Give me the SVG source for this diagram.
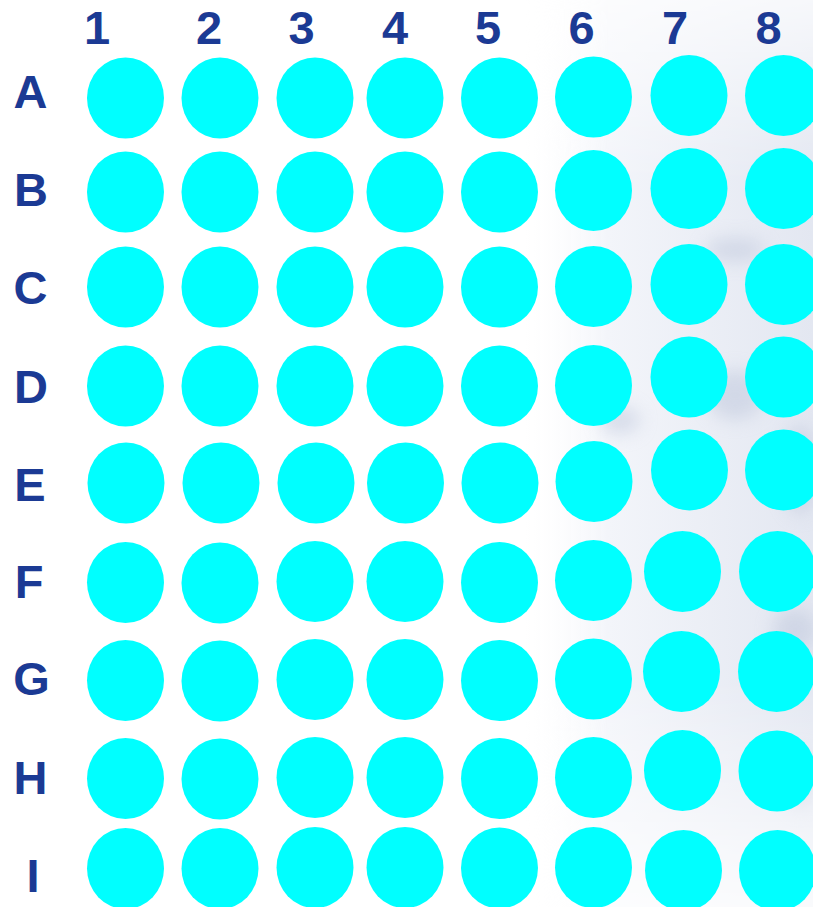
<svg xmlns="http://www.w3.org/2000/svg" width="813" height="907" viewBox="0 0 813 907">
  <defs>
    <style>
      .lbl { font-family: "Liberation Sans", Arial, sans-serif; font-weight: bold; font-size: 47px; fill: #1B3A94; text-anchor: middle; }
      .well { fill: #00FFFF; }
    </style>
    <linearGradient id="bgGrad" x1="0" y1="0" x2="1" y2="0">
      <stop offset="0" stop-color="#ffffff" stop-opacity="0"/>
      <stop offset="0.3" stop-color="#f3f5fa" stop-opacity="1"/>
      <stop offset="1" stop-color="#e3e7f1" stop-opacity="1"/>
    </linearGradient>
    <linearGradient id="fadeV" x1="0" y1="0" x2="0" y2="1">
      <stop offset="0" stop-color="#fff" stop-opacity="0.3"/>
      <stop offset="0.2" stop-color="#fff" stop-opacity="1"/>
      <stop offset="0.75" stop-color="#fff" stop-opacity="1"/>
      <stop offset="1" stop-color="#fff" stop-opacity="0.2"/>
    </linearGradient>
    <mask id="bgMask">
      <rect x="520" y="0" width="293" height="907" fill="url(#fadeV)"/>
    </mask>
    <filter id="blur" x="-50%" y="-50%" width="200%" height="200%">
      <feGaussianBlur stdDeviation="9"/>
    </filter>
  </defs>

  <rect x="0" y="0" width="813" height="907" fill="#ffffff"/>
  <g id="background" mask="url(#bgMask)">
    <rect x="520" y="0" width="293" height="907" fill="url(#bgGrad)"/>
    <g filter="url(#blur)" fill="#bcc5da" opacity="0.5">
      <ellipse cx="735" cy="250" rx="30" ry="12"/>
      <ellipse cx="735" cy="395" rx="28" ry="25"/>
      <ellipse cx="800" cy="470" rx="18" ry="45"/>
      <ellipse cx="795" cy="630" rx="22" ry="22"/>
      <ellipse cx="800" cy="780" rx="14" ry="30"/>
      <ellipse cx="620" cy="420" rx="20" ry="14"/>
    </g>
  </g>

  <g id="column-labels">
    <text class="lbl" x="97" y="44">1</text>
    <text class="lbl" x="209" y="44">2</text>
    <text class="lbl" x="301.5" y="44">3</text>
    <text class="lbl" x="395" y="44">4</text>
    <text class="lbl" x="488" y="44">5</text>
    <text class="lbl" x="581.5" y="44">6</text>
    <text class="lbl" x="675" y="44">7</text>
    <text class="lbl" x="768.5" y="44">8</text>
  </g>

  <g id="row-labels">
    <text class="lbl" x="30.5" y="108">A</text>
    <text class="lbl" x="31" y="206">B</text>
    <text class="lbl" x="30.5" y="304">C</text>
    <text class="lbl" x="31" y="403">D</text>
    <text class="lbl" x="30" y="501">E</text>
    <text class="lbl" x="29" y="598">F</text>
    <text class="lbl" x="31.5" y="695">G</text>
    <text class="lbl" x="30.5" y="794">H</text>
    <text class="lbl" x="33" y="892">I</text>
  </g>

  <g id="row-A">
    <ellipse id="A1" class="well" cx="125.5" cy="98" rx="38.5" ry="40.5"/>
    <ellipse id="A2" class="well" cx="220" cy="98" rx="38.5" ry="40.5"/>
    <ellipse id="A3" class="well" cx="315" cy="98" rx="38.5" ry="40.5"/>
    <ellipse id="A4" class="well" cx="405" cy="98" rx="38.5" ry="40.5"/>
    <ellipse id="A5" class="well" cx="499.5" cy="98" rx="38.5" ry="40.5"/>
    <ellipse id="A6" class="well" cx="593.5" cy="97" rx="38.5" ry="40.5"/>
    <ellipse id="A7" class="well" cx="689" cy="95.5" rx="38.5" ry="40.5"/>
    <ellipse id="A8" class="well" cx="783.5" cy="95.5" rx="38.5" ry="40.5"/>
  </g>
  <g id="row-B">
    <ellipse id="B1" class="well" cx="125.5" cy="192" rx="38.5" ry="40.5"/>
    <ellipse id="B2" class="well" cx="220" cy="192" rx="38.5" ry="40.5"/>
    <ellipse id="B3" class="well" cx="315" cy="192" rx="38.5" ry="40.5"/>
    <ellipse id="B4" class="well" cx="405" cy="192" rx="38.5" ry="40.5"/>
    <ellipse id="B5" class="well" cx="499.5" cy="192" rx="38.5" ry="40.5"/>
    <ellipse id="B6" class="well" cx="593.5" cy="190.5" rx="38.5" ry="40.5"/>
    <ellipse id="B7" class="well" cx="689" cy="188.5" rx="38.5" ry="40.5"/>
    <ellipse id="B8" class="well" cx="783.5" cy="188.5" rx="38.5" ry="40.5"/>
  </g>
  <g id="row-C">
    <ellipse id="C1" class="well" cx="125.5" cy="287" rx="38.5" ry="40.5"/>
    <ellipse id="C2" class="well" cx="220" cy="287" rx="38.5" ry="40.5"/>
    <ellipse id="C3" class="well" cx="315" cy="287" rx="38.5" ry="40.5"/>
    <ellipse id="C4" class="well" cx="405" cy="287" rx="38.5" ry="40.5"/>
    <ellipse id="C5" class="well" cx="499.5" cy="287" rx="38.5" ry="40.5"/>
    <ellipse id="C6" class="well" cx="593.5" cy="286.5" rx="38.5" ry="40.5"/>
    <ellipse id="C7" class="well" cx="689" cy="284.5" rx="38.5" ry="40.5"/>
    <ellipse id="C8" class="well" cx="783.5" cy="284.5" rx="38.5" ry="40.5"/>
  </g>
  <g id="row-D">
    <ellipse id="D1" class="well" cx="125.5" cy="386" rx="38.5" ry="40.5"/>
    <ellipse id="D2" class="well" cx="220" cy="386" rx="38.5" ry="40.5"/>
    <ellipse id="D3" class="well" cx="315" cy="386" rx="38.5" ry="40.5"/>
    <ellipse id="D4" class="well" cx="405" cy="386" rx="38.5" ry="40.5"/>
    <ellipse id="D5" class="well" cx="499.5" cy="386" rx="38.5" ry="40.5"/>
    <ellipse id="D6" class="well" cx="593.5" cy="385.5" rx="38.5" ry="40.5"/>
    <ellipse id="D7" class="well" cx="689" cy="377" rx="38.5" ry="40.5"/>
    <ellipse id="D8" class="well" cx="783.5" cy="377" rx="38.5" ry="40.5"/>
  </g>
  <g id="row-E">
    <ellipse id="E1" class="well" cx="126" cy="483" rx="38.5" ry="40.5"/>
    <ellipse id="E2" class="well" cx="221" cy="483" rx="38.5" ry="40.5"/>
    <ellipse id="E3" class="well" cx="316" cy="483" rx="38.5" ry="40.5"/>
    <ellipse id="E4" class="well" cx="405.5" cy="483" rx="38.5" ry="40.5"/>
    <ellipse id="E5" class="well" cx="500" cy="483" rx="38.5" ry="40.5"/>
    <ellipse id="E6" class="well" cx="594" cy="481.5" rx="38.5" ry="40.5"/>
    <ellipse id="E7" class="well" cx="689.5" cy="470" rx="38.5" ry="40.5"/>
    <ellipse id="E8" class="well" cx="783.5" cy="470" rx="38.5" ry="40.5"/>
  </g>
  <g id="row-F">
    <ellipse id="F1" class="well" cx="125.5" cy="582.5" rx="38.5" ry="40.5"/>
    <ellipse id="F2" class="well" cx="220" cy="583" rx="38.5" ry="40.5"/>
    <ellipse id="F3" class="well" cx="315" cy="581.5" rx="38.5" ry="40.5"/>
    <ellipse id="F4" class="well" cx="405" cy="581.5" rx="38.5" ry="40.5"/>
    <ellipse id="F5" class="well" cx="499.5" cy="582.5" rx="38.5" ry="40.5"/>
    <ellipse id="F6" class="well" cx="593.5" cy="580.5" rx="38.5" ry="40.5"/>
    <ellipse id="F7" class="well" cx="682.5" cy="571.5" rx="38.5" ry="40.5"/>
    <ellipse id="F8" class="well" cx="777.5" cy="571.5" rx="38.5" ry="40.5"/>
  </g>
  <g id="row-G">
    <ellipse id="G1" class="well" cx="125.5" cy="680.5" rx="38.5" ry="40.5"/>
    <ellipse id="G2" class="well" cx="220" cy="681" rx="38.5" ry="40.5"/>
    <ellipse id="G3" class="well" cx="315" cy="679.5" rx="38.5" ry="40.5"/>
    <ellipse id="G4" class="well" cx="405" cy="679.5" rx="38.5" ry="40.5"/>
    <ellipse id="G5" class="well" cx="499.5" cy="680.5" rx="38.5" ry="40.5"/>
    <ellipse id="G6" class="well" cx="593.5" cy="679" rx="38.5" ry="40.5"/>
    <ellipse id="G7" class="well" cx="681.5" cy="671.5" rx="38.5" ry="40.5"/>
    <ellipse id="G8" class="well" cx="776.5" cy="671.5" rx="38.5" ry="40.5"/>
  </g>
  <g id="row-H">
    <ellipse id="H1" class="well" cx="125.5" cy="778.5" rx="38.5" ry="40.5"/>
    <ellipse id="H2" class="well" cx="220" cy="779" rx="38.5" ry="40.5"/>
    <ellipse id="H3" class="well" cx="315" cy="777.5" rx="38.5" ry="40.5"/>
    <ellipse id="H4" class="well" cx="405" cy="777.5" rx="38.5" ry="40.5"/>
    <ellipse id="H5" class="well" cx="499.5" cy="778.5" rx="38.5" ry="40.5"/>
    <ellipse id="H6" class="well" cx="593.5" cy="777.5" rx="38.5" ry="40.5"/>
    <ellipse id="H7" class="well" cx="682.5" cy="770.5" rx="38.5" ry="40.5"/>
    <ellipse id="H8" class="well" cx="777" cy="771" rx="38.5" ry="40.5"/>
  </g>
  <g id="row-I">
    <ellipse id="I1" class="well" cx="125.5" cy="868.5" rx="38.5" ry="40.5"/>
    <ellipse id="I2" class="well" cx="220" cy="868.5" rx="38.5" ry="40.5"/>
    <ellipse id="I3" class="well" cx="315" cy="867.5" rx="38.5" ry="40.5"/>
    <ellipse id="I4" class="well" cx="405" cy="867.5" rx="38.5" ry="40.5"/>
    <ellipse id="I5" class="well" cx="499.5" cy="868" rx="38.5" ry="40.5"/>
    <ellipse id="I6" class="well" cx="593.5" cy="867.5" rx="38.5" ry="40.5"/>
    <ellipse id="I7" class="well" cx="683.5" cy="870.5" rx="38.5" ry="40.5"/>
    <ellipse id="I8" class="well" cx="777.5" cy="870.5" rx="38.5" ry="40.5"/>
  </g>
</svg>
